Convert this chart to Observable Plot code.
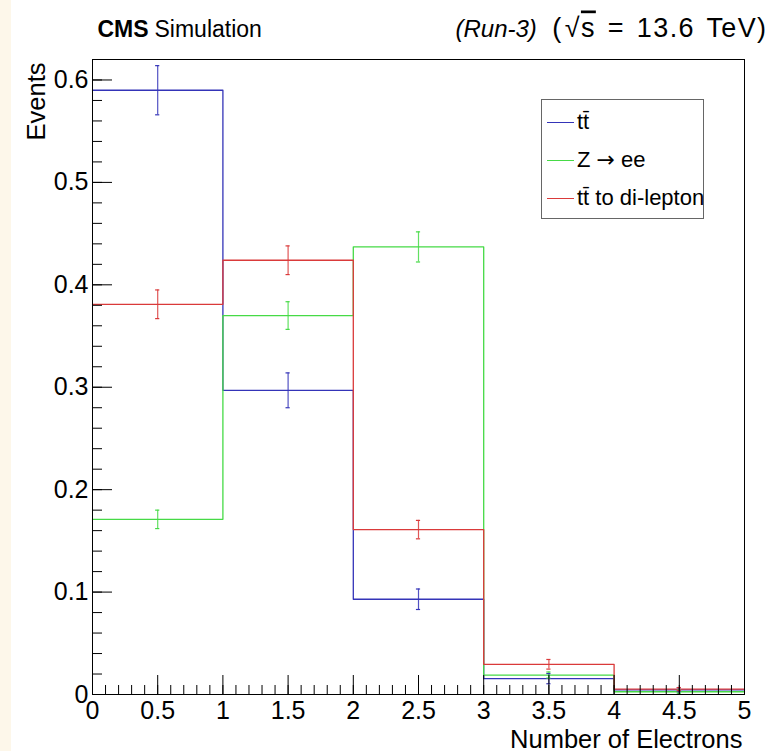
<!DOCTYPE html>
<html><head><meta charset="utf-8">
<script src="https://cdn.jsdelivr.net/npm/d3@7"></script>
<script src="https://cdn.jsdelivr.net/npm/@observablehq/plot@0.6"></script>
<style>
html,body{margin:0;padding:0;background:#fff;}
#wrap{position:relative;width:771px;height:751px;font-family:"Liberation Sans",Arial,sans-serif;color:#000;}
#strip{position:absolute;left:0;top:0;width:11px;height:751px;background:#fdf7ea;}
#chart{position:absolute;left:0;top:0;}
#legend{position:absolute;left:541px;top:99px;width:161px;height:118px;border:1px solid #666;background:#fff;}
.row{position:absolute;left:0;height:30px;display:flex;align-items:center;font-size:22px;white-space:nowrap;}
.sw{width:27px;height:0;border-top:1.3px solid;margin-left:5px;margin-right:3px;}
.arrow{font-family:"DejaVu Sans",sans-serif;font-size:22px;}
</style></head><body>
<div id="wrap"><div id="strip"></div><div id="chart"></div><div id="legend"></div></div>
<script>
// ---- data ----
const binEdges = [0, 1, 2, 3, 4, 5];
const binCenters = [0.5, 1.5, 2.5, 3.5, 4.5];
const seriesNames = ["t\u0074\u0304", "Z \u2192 ee", "t\u0074\u0304 to di-lepton"];
const seriesColors = ["#3434b8", "#46da46", "#da3a3a"];
const ttbarValues = [0.590, 0.297, 0.093, 0.0155, 0.0046];
const ttbarErrors = [0.024, 0.017, 0.010, 0.005, 0.002];
const zeeValues = [0.171, 0.370, 0.437, 0.0190, 0.0027];
const zeeErrors = [0.009, 0.0135, 0.0147, 0.003, 0.0015];
const dilepValues = [0.381, 0.424, 0.161, 0.0295, 0.0053];
const dilepErrors = [0.014, 0.014, 0.009, 0.0047, 0.0015];
const yTicksMajor = [0, 0.1, 0.2, 0.3, 0.4, 0.5, 0.6];
const xTicksMajor = [0, 0.5, 1, 1.5, 2, 2.5, 3, 3.5, 4, 4.5, 5];
const yDomain = [0, 0.62];
const xDomain = [0, 5];
const xTitle = "Number of Electrons";
const yTitle = "Events";

const yTicksMinor = d3.range(0, 32).map(i => +(i * 0.02).toFixed(2));
const xTicksMinor = d3.range(0, 51).map(i => +(i / 10).toFixed(1));

const series = [
  {name: seriesNames[0], values: ttbarValues, errors: ttbarErrors},
  {name: seriesNames[1], values: zeeValues, errors: zeeErrors},
  {name: seriesNames[2], values: dilepValues, errors: dilepErrors}
];
const stepData = series.flatMap(s => binEdges.map((e, i) => ({series: s.name, x: e, y: s.values[Math.min(i, s.values.length - 1)]})));
const errData = series.flatMap(s => binCenters.map((c, i) => ({series: s.name, x: c, lo: s.values[i] - s.errors[i], hi: s.values[i] + s.errors[i]})));
const capData = errData.flatMap(d => [{series: d.series, x: d.x, y: d.lo}, {series: d.series, x: d.x, y: d.hi}]);
const cap = 0.016;
const fmt = d3.format("~g");

const W = 771, H = 751, mL = 92, mR = 27, mT = 59, mB = 57;
const fw = W - mL - mR, fh = H - mT - mB;

const chart = Plot.plot({
  width: W, height: H,
  marginLeft: mL, marginRight: mR, marginTop: mT, marginBottom: mB,
  style: {fontFamily: "'Liberation Sans', Arial, sans-serif", fontSize: "25px", background: "transparent", color: "#000", overflow: "visible"},
  x: {domain: xDomain, axis: null},
  y: {domain: yDomain, axis: null},
  color: {domain: seriesNames, range: seriesColors},
  marks: [
    Plot.line(stepData, {x: "x", y: "y", z: "series", stroke: "series", curve: "step-after", strokeWidth: 1.3}),
    Plot.ruleX(errData, {x: "x", y1: "lo", y2: "hi", stroke: "series", strokeWidth: 1.2, strokeOpacity: 0.85}),
    Plot.ruleY(capData, {y: "y", x1: d => d.x - cap, x2: d => d.x + cap, stroke: "series", strokeWidth: 1.2}),
    Plot.tickY(yTicksMajor, {y: d => d, insetRight: fw - 20, stroke: "#000"}),
    Plot.tickY(yTicksMinor, {y: d => d, insetRight: fw - 10, stroke: "#000"}),
    Plot.tickX(xTicksMajor, {x: d => d, insetTop: fh - 19, stroke: "#000"}),
    Plot.tickX(xTicksMinor, {x: d => d, insetTop: fh - 9, stroke: "#000"}),
    Plot.frame({stroke: "#000", strokeWidth: 1}),
    Plot.axisY({ticks: yTicksMajor, tickSize: 0, tickPadding: 4, tickFormat: fmt, fontSize: 25, label: null}),
    Plot.axisX({ticks: xTicksMajor, tickSize: 0, tickPadding: 7, tickFormat: fmt, fontSize: 25, label: null}),
    Plot.text([xTitle], {text: d => d, frameAnchor: "bottom-right", textAnchor: "end", lineAnchor: "bottom", dx: -2, dy: 53, fontSize: 25.5}),
    Plot.text([yTitle], {text: d => d, frameAnchor: "top-left", textAnchor: "end", lineAnchor: "bottom", rotate: -90, dx: -48, dy: 3, fontSize: 25.5}),
    Plot.text(["CMS"], {text: d => d, frameAnchor: "top-left", textAnchor: "start", lineAnchor: "bottom", dx: 5, dy: -23, fontSize: 23, fontWeight: "bold"}),
    Plot.text(["Simulation"], {text: d => d, frameAnchor: "top-left", textAnchor: "start", lineAnchor: "bottom", dx: 62, dy: -23, fontSize: 23}),
    Plot.text(["(Run-3)"], {text: d => d, frameAnchor: "top-left", textAnchor: "start", lineAnchor: "bottom", dx: 363, dy: -23, fontSize: 24, fontStyle: "italic"}),
    Plot.text(["(\u221As = 13.6 TeV)"], {text: d => d, frameAnchor: "top-right", textAnchor: "end", lineAnchor: "bottom", dx: 23, dy: -23, fontSize: 27})
  ]
});
document.getElementById("chart").appendChild(chart);

// radical with overline on s, spacing as in ROOT's TLatex
d3.select(chart).selectAll("text").filter(function() { return this.textContent === "(\u221As = 13.6 TeV)"; })
  .each(function() {
    const t = d3.select(this).style("letter-spacing", "1.4px");
    t.text(null);
    t.append("tspan").text("(");
    t.append("tspan").attr("dx", 2).text("\u221A");
    t.append("tspan").style("text-decoration", "overline").text("s");
    t.append("tspan").style("word-spacing", "3px").text(" = 13.6 TeV)");
  });

// legend
const legend = document.getElementById("legend");
const rowCenters = [22, 60, 98];
series.forEach((s, i) => {
  const row = document.createElement("div");
  row.className = "row";
  row.style.top = (rowCenters[i] - 15) + "px";
  const sw = document.createElement("span");
  sw.className = "sw";
  sw.style.borderTopColor = seriesColors[i];
  const lab = document.createElement("span");
  if (s.name.includes("\u2192")) {
    const [a, b] = s.name.split("\u2192");
    lab.append(a);
    const ar = document.createElement("span");
    ar.className = "arrow";
    ar.textContent = "\u2192";
    lab.append(ar, b);
  } else {
    lab.textContent = s.name;
  }
  row.appendChild(sw); row.appendChild(lab);
  legend.appendChild(row);
});
</script>
</body></html>
